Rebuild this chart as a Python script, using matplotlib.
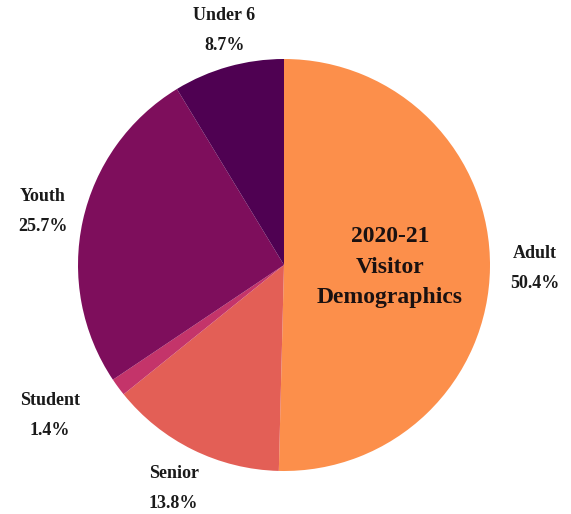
import matplotlib.pyplot as plt
import numpy as np

labels = ["Adult", "Senior", "Student", "Youth", "Under 6"]
values = [50.4, 13.8, 1.4, 25.7, 8.7]
colors = ["#FC8F4B", "#E35F56", "#C4346A", "#7E0E5C", "#4F0152"]
label_dist = [1.22, 1.21, 1.35, 1.2, 1.175]
label_shift = [0, 0, -3.7, 0, -1.4]  # degrees

plt.rcParams['font.family'] = ['Liberation Serif', 'DejaVu Serif']

fig = plt.figure(figsize=(5.71, 5.14), dpi=100)
# axes in pixels: centre (284, 265 from top), radius 206
R = 206
ax = fig.add_axes([0, 0, 1, 1])

wedges, _ = ax.pie(values, colors=colors, startangle=90, counterclock=False,
                   radius=1, center=(0, 0), frame=True)
ax.set_xlim(-284 / R, (571 - 284) / R)
ax.set_ylim(-(514 - 265) / R, 265 / R)
ax.set_aspect('equal')
ax.axis('off')

total = sum(values)
cum = 0
for lab, v, d, s in zip(labels, values, label_dist, label_shift):
    mid = cum + v / 2
    cum += v
    ang = np.deg2rad(90 - mid / total * 360 + s)
    ax.text(d * np.cos(ang), d * np.sin(ang), f"{lab}\n{v:.1f}%",
            ha='center', va='center', fontsize=13, fontweight='bold',
            linespacing=2.0, color='#1a1a1a')

ax.text(0.515, -0.01, "2020-21\nVisitor\nDemographics", ha='center', va='center',
        fontsize=17, fontweight='bold', linespacing=1.6, color='#1a1111')

fig.savefig("out.png", dpi=100)
